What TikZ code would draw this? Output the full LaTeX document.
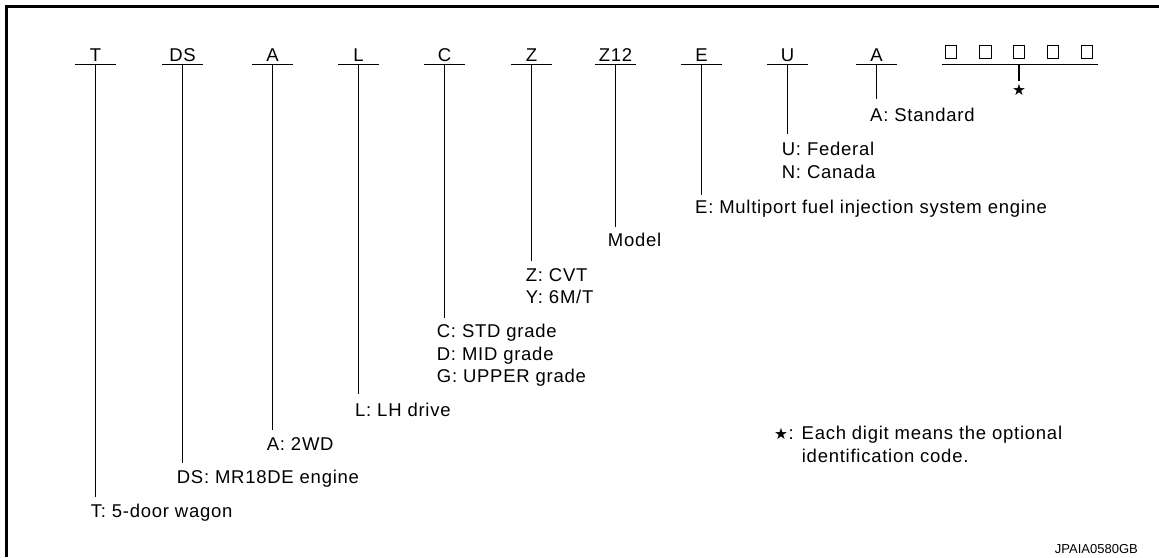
\documentclass[tikz,border=0pt]{standalone}
\usepackage{fontspec}
\setmainfont{Liberation Sans}[LetterSpace=4]
\newfontfamily\symfont{DejaVu Sans}
\usepackage{tikz}
\usetikzlibrary{positioning,calc}
\tikzstyle{codebar} = [line width=1.2pt]
\tikzstyle{leader} = [line width=1.2pt]

\begin{document}
\begin{tikzpicture}[x=1pt, y=-1pt,
    code/.style={anchor=base, inner sep=0pt, font=\fontsize{18.5}{21}\selectfont},
    meaning/.style={anchor=base west, inner sep=0pt, font=\fontsize{18.5}{21}\selectfont},
    digit/.style={draw, line width=1pt, minimum width=11.5pt, minimum height=12.5pt, inner sep=0pt},
    starmark/.style={inner sep=0pt, font=\symfont\fontsize{15.5}{15.5}\selectfont}]
  \useasboundingbox (0,0) rectangle (1159,557);

  % Frame
  \draw[line width=3pt] (6.2,557) -- (6.2,6.2) -- (1159,6.2);

  % Code letters
  \node[code] (t)   at (95.5,61)  {T};
  \node[code] (ds)  at (182.5,61) {DS};
  \node[code] (a)   at (272.5,61) {A};
  \node[code] (l)   at (358.5,61) {L};
  \node[code] (c)   at (444.5,61) {C};
  \node[code] (z)   at (531.5,61) {Z};
  \node[code] (z12) at (615.5,61) {Z12};
  \node[code] (e)   at (701.5,61) {E};
  \node[code] (u)   at (787.5,61) {U};
  \node[code] (a2)  at (876.5,61) {A};

  % Bars and leaders
  \foreach \n/\y in {t/496.7, ds/463, a/430, l/394.3, c/318, z/261, z12/226.7, e/195, u/134.3, a2/99.3} {
    \draw[codebar] ($(\n.base)+(-20.5,3.5)$) -- ($(\n.base)+(20.5,3.5)$);
    \coordinate (\n End) at ($(\n.base |- 0,\y)$);
    \draw[leader] ($(\n.base)+(0,3.5)$) -- (\n End);
  }

  % Meanings
  \node[meaning] (tText)   at (90.7,517.7)  {T: 5-door wagon};
  \node[meaning] (dsText)  at (176.7,483.3) {DS: MR18DE engine};
  \node[meaning] (aText)   at (266.7,450.7) {A: 2WD};
  \node[meaning] (lText)   at (355,416)     {L: LH drive};
  \node[meaning] (cStd)    at (436.7,337.7) {C: STD grade};
  \node[meaning] (cMid)    at (436.7,360)   {D: MID grade};
  \node[meaning] (cUpper)  at (436.7,382.7) {G: UPPER grade};
  \node[meaning] (zCvt)    at (525.7,281.7) {Z: CVT};
  \node[meaning] (zMt)     at (525.7,303.3) {Y: 6M/T};
  \node[meaning] (z12Text) at (607.7,246.7) {Model};
  \node[meaning] (eText)   at (695,213.3)   {E: Multiport fuel injection system engine};
  \node[meaning] (uFed)    at (781.7,155.3) {U: Federal};
  \node[meaning] (uCan)    at (781.7,178.3) {N: Canada};
  \node[meaning] (a2Text)  at (870,121.7)   {A: Standard};

  % Optional digits
  \node[digit] (d1) at (951,52)   {};
  \node[digit] (d2) at (985.7,52) {};
  \node[digit] (d3) at (1019,52)  {};
  \node[digit] (d4) at (1053,52)  {};
  \node[digit] (d5) at (1087,52)  {};
  \coordinate (dLeft)  at (942,64.5);
  \coordinate (dRight) at (1098,64.5);
  \coordinate (dMid)   at (1019,64.5);
  \draw[codebar] (dLeft) -- (dRight);
  \node[starmark] (dStar) at (1019,89.5) {★};
  \draw[leader] (dMid) -- ($(dStar.north)+(0,-3)$);

  % Footnote
  \node[starmark] (fStar) at (781,434) {★};
  \node[meaning] (fNote)  at (788.5,439.3) {: Each digit means the optional};
  \node[meaning] (fNote2) at (801.7,462.7) {identification code.};
  \node[anchor=base east, inner sep=0pt, font=\fontspec{Liberation Sans}\fontsize{13}{15}\selectfont] (figId) at (1138,553) {JPAIA0580GB};
\end{tikzpicture}
\end{document}
